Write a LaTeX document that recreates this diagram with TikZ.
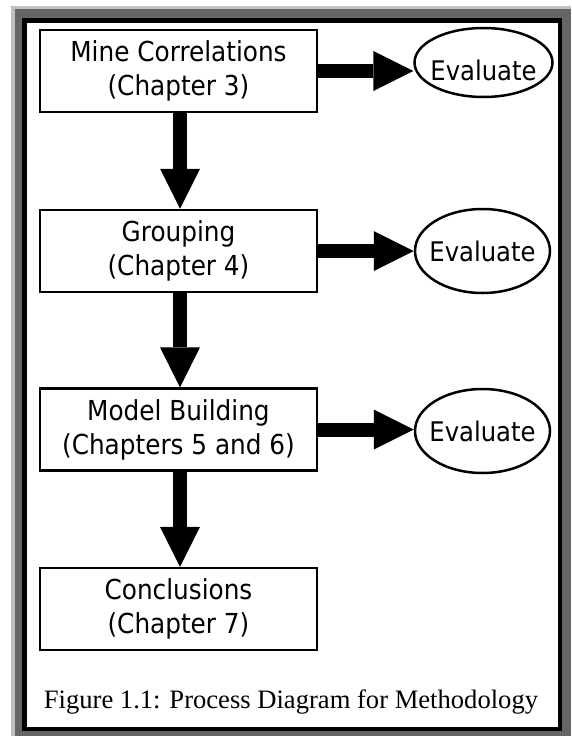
\documentclass[tikz,border=0pt]{standalone}
\usepackage{fontspec}
\setmainfont{Liberation Serif}
\newfontfamily\boxfont{DejaVu Sans Condensed}
\usetikzlibrary{shapes.geometric,arrows.meta}
\definecolor{framegray}{HTML}{666666}
\definecolor{lightframe}{HTML}{C0C0C0}
\newcommand{\evtext}[2]{\raisebox{-#1pt}[0pt][0pt]{\makebox[0pt]{#2}}}
\begin{document}
\begin{tikzpicture}[x=1pt,y=-1pt,
  procbox/.style={draw=black, line width=2.5pt, fill=white, minimum width=277pt,
    minimum height=82pt, inner sep=0pt, align=center,
    font=\boxfont\fontsize{27.5}{34}\selectfont},
  evalshape/.style={draw=black, line width=2.5pt, fill=white, ellipse, inner sep=0pt,
    font=\boxfont\fontsize{27}{33}\selectfont},
  bigarrow/.style={line width=14pt, -{Triangle[length=40pt,width=40pt,line width=0pt]}},
  captionstyle/.style={font=\fontsize{26.6}{30}\selectfont, anchor=base, inner sep=0pt}
]
\useasboundingbox (0,0) rectangle (571,736);
% frame
\fill[lightframe] (11,6) rectangle (571,736);
\fill[framegray] (15,9) rectangle (571,736);
\fill[black] (22,18) rectangle (562,731);
\fill[white] (27,23) rectangle (558,727);

% process boxes
\node[procbox] (b1) at (178.5,71) {Mine Correlations\\(Chapter 3)};
\node[procbox] (b2) at (178.5,251) {Grouping\\(Chapter 4)};
\node[procbox] (b3) at (178.5,429.5) {Model Building\\(Chapters 5 and 6)};
\node[procbox] (b4) at (178.5,609) {Conclusions\\(Chapter 7)};

% evaluate ellipses
\node[evalshape, minimum width=138pt, minimum height=69pt] (e1) at (483.5,62.5) {\evtext{18}{Evaluate}};
\node[evalshape, minimum width=135pt, minimum height=84pt] (e2) at (482.5,251) {\evtext{10.5}{Evaluate}};
\node[evalshape, minimum width=135pt, minimum height=84pt] (e3) at (482.5,431) {\evtext{10.5}{Evaluate}};

% arrows
\draw[bigarrow] (b1.east) -- (b1.east -| e1.west);
\draw[bigarrow] (b2.east) -- (b2.east -| e2.west);
\draw[bigarrow] (b3.east) -- (b3.east -| e3.west);
\draw[bigarrow] ([xshift=1.5pt]b1.south) -- ([xshift=1.5pt]b2.north);
\draw[bigarrow] ([xshift=1.5pt]b2.south) -- ([xshift=1.5pt]b3.north);
\draw[bigarrow] ([xshift=1.5pt]b3.south) -- ([xshift=1.5pt]b4.north);

% caption
\node[captionstyle] (cap) at (291,708) {Figure 1.1: Process Diagram for Methodology};
\end{tikzpicture}
\end{document}
